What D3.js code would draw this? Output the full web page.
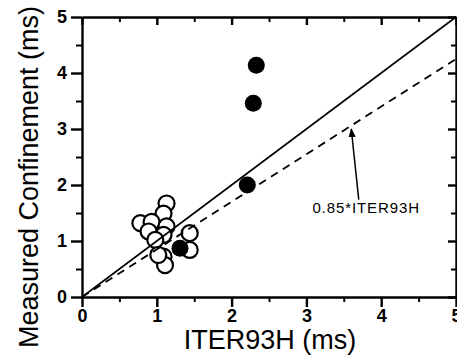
<!DOCTYPE html>
<meta charset="utf-8">
<style>
body { margin: 0; background: #fff; }
svg { display: block; }
.axis path, .axis line { stroke: #000; stroke-width: 2.4; }
.axis text { font: bold 18px "Liberation Sans", Arial, sans-serif; fill: #000; }
.minor line { stroke-width: 2; }
.title { font: 27px "Liberation Sans", Arial, sans-serif; fill: #000; }
.note { font: 15px "Liberation Sans", Arial, sans-serif; fill: #000; letter-spacing: 0.9px; }
</style>
<body>
<script src="https://cdn.jsdelivr.net/npm/d3@7"></script>
<script>

// open circles: measured vs ITER93H
var open_x = [1.13, 1.09, 0.78, 0.93, 0.89, 1.13, 1.09, 1.44, 0.98, 1.44, 1.09, 1.11, 1.02];
var open_y = [1.67, 1.49, 1.32, 1.34, 1.17, 1.26, 1.11, 1.14, 1.02, 0.84, 0.72, 0.57, 0.75];
// filled circles
var filled_x = [2.33, 2.29, 2.21, 1.31];
var filled_y = [4.14, 3.46, 2.00, 0.87];

var major_ticks = [0, 1, 2, 3, 4, 5];
var minor_ticks = [0.5, 1.5, 2.5, 3.5, 4.5];
var factor = 0.85;

var width = 457, height = 360;
var plot_left = 82, plot_right = 456, plot_top = 17, plot_bottom = 297;

var svg = d3.select("body").append("svg")
    .attr("width", width)
    .attr("height", height);

var x = d3.scaleLinear().domain([0, 5]).range([plot_left, plot_right]);
var y = d3.scaleLinear().domain([0, 5]).range([plot_bottom, plot_top]);

// bottom axis
svg.append("g").attr("class", "axis").attr("transform", "translate(0," + plot_bottom + ")")
    .call(d3.axisBottom(x).tickValues(major_ticks).tickSize(10).tickSizeOuter(0).tickPadding(2).tickFormat(d3.format("d")));
svg.append("g").attr("class", "axis minor").attr("transform", "translate(0," + plot_bottom + ")")
    .call(d3.axisBottom(x).tickValues(minor_ticks).tickSize(5).tickFormat(""))
    .select(".domain").remove();

// left axis
svg.append("g").attr("class", "axis").attr("transform", "translate(" + plot_left + ",0)")
    .call(d3.axisLeft(y).tickValues(major_ticks).tickSize(11).tickSizeOuter(0).tickPadding(4).tickFormat(d3.format("d")));
svg.append("g").attr("class", "axis minor").attr("transform", "translate(" + plot_left + ",0)")
    .call(d3.axisLeft(y).tickValues(minor_ticks).tickSize(6).tickFormat(""))
    .select(".domain").remove();

// top axis, ticks pointing inward
svg.append("g").attr("class", "axis").attr("transform", "translate(0," + plot_top + ")")
    .call(d3.axisBottom(x).tickValues(major_ticks).tickSize(8).tickSizeOuter(0).tickFormat(""));
svg.append("g").attr("class", "axis minor").attr("transform", "translate(0," + plot_top + ")")
    .call(d3.axisBottom(x).tickValues(minor_ticks).tickSize(5).tickFormat(""))
    .select(".domain").remove();

// right axis, ticks pointing inward
svg.append("g").attr("class", "axis").attr("transform", "translate(" + plot_right + ",0)")
    .call(d3.axisLeft(y).tickValues(major_ticks).tickSize(8).tickSizeOuter(0).tickFormat(""));
svg.append("g").attr("class", "axis minor").attr("transform", "translate(" + plot_right + ",0)")
    .call(d3.axisLeft(y).tickValues(minor_ticks).tickSize(5).tickFormat(""))
    .select(".domain").remove();

// points
svg.selectAll("circle.open")
    .data(d3.range(open_x.length))
  .enter().append("circle")
    .attr("class", "open")
    .attr("cx", function(i) { return x(open_x[i]); })
    .attr("cy", function(i) { return y(open_y[i]); })
    .attr("r", 8)
    .attr("fill", "#fff")
    .attr("stroke", "#000")
    .attr("stroke-width", 2.2);

svg.selectAll("circle.filled")
    .data(d3.range(filled_x.length))
  .enter().append("circle")
    .attr("class", "filled")
    .attr("cx", function(i) { return x(filled_x[i]); })
    .attr("cy", function(i) { return y(filled_y[i]); })
    .attr("r", 8.5)
    .attr("fill", "#000");

// y = x and y = 0.85 x
svg.append("line")
    .attr("x1", x(0)).attr("y1", y(0))
    .attr("x2", x(5)).attr("y2", y(5))
    .attr("stroke", "#000").attr("stroke-width", 1.6);

svg.append("line")
    .attr("x1", x(0)).attr("y1", y(0))
    .attr("x2", x(5)).attr("y2", y(5 * factor))
    .attr("stroke", "#000").attr("stroke-width", 1.8)
    .attr("stroke-dasharray", "8,6");

// arrow + label
svg.append("defs").append("marker")
    .attr("id", "head")
    .attr("viewBox", "0 0 10 10")
    .attr("refX", 9).attr("refY", 5)
    .attr("markerWidth", 6).attr("markerHeight", 7)
    .attr("orient", "auto")
  .append("path")
    .attr("d", "M0,1L10,5L0,9Z")
    .attr("fill", "#000");

svg.append("line")
    .attr("x1", x(3.7)).attr("y1", y(1.74))
    .attr("x2", x(3.6)).attr("y2", y(3.0))
    .attr("stroke", "#000").attr("stroke-width", 1.5)
    .attr("marker-end", "url(#head)");

svg.append("text")
    .attr("class", "note")
    .attr("x", x(3.08)).attr("y", y(1.5))
    .text("0.85*ITER93H");

// axis titles
svg.append("text")
    .attr("class", "title")
    .attr("text-anchor", "middle")
    .attr("x", 270).attr("y", 349)
    .text("ITER93H (ms)");

svg.append("text")
    .attr("class", "title")
    .attr("text-anchor", "middle")
    .attr("transform", "translate(38,177) rotate(-90)")
    .text("Measured Confinement (ms)");

</script>
</body>
